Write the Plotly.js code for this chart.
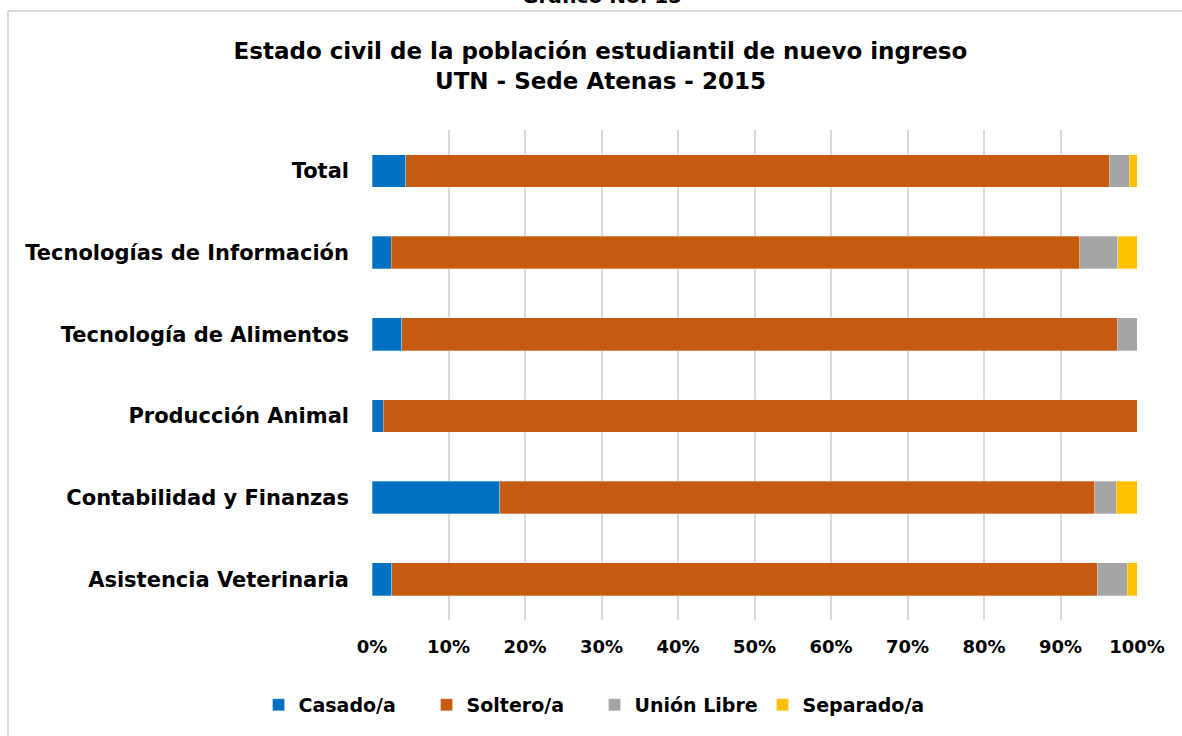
<!DOCTYPE html>
<html>
<head>
<meta charset="utf-8">
<script src="https://cdn.plot.ly/plotly-3.0.1.min.js"></script>
<style>
html,body{margin:0;padding:0;background:#fff;}
#chart{width:1182px;height:736px;}
</style>
</head>
<body>
<div id="chart"></div>
<script>
const categories = ["Total","Tecnologías de Información","Tecnología de Alimentos","Producción Animal","Contabilidad y Finanzas","Asistencia Veterinaria"];
const seriesNames = ["Casado/a","Soltero/a","Unión Libre","Separado/a"];
const casado   = [4.4, 2.5, 3.9, 1.5, 16.7, 2.6];
const soltero  = [92.0, 90.0, 93.5, 98.5, 77.8, 92.2];
const unionLib = [2.6, 5.0, 2.6, 0, 2.8, 3.9];
const separado = [1.0, 2.5, 0, 0, 2.7, 1.3];
const colors = ["#0070C0","#C55A11","#A5A5A5","#FFC000"];
const xTickVals = [0,10,20,30,40,50,60,70,80,90,100];
const xTickText = ["0%","10%","20%","30%","40%","50%","60%","70%","80%","90%","100%"];

const FONT = "DejaVu Sans, sans-serif";
const values = [casado, soltero, unionLib, separado];
const traces = seriesNames.map((n,i)=>({
  type:"bar", orientation:"h", name:n,
  x: values[i], y: categories,
  marker:{color:colors[i], line:{color:"rgba(255,255,255,0.5)", width:0.6}},
  hoverinfo:"x+y+name"
}));

const layout = {
  width:1182, height:736,
  paper_bgcolor:"#fff", plot_bgcolor:"#fff",
  barmode:"stack", bargap:0.6,
  margin:{l:372, r:45, t:130, b:116},
  font:{family:FONT, color:"#000"},
  title:{text:"<b>Estado civil de la población estudiantil de nuevo ingreso<br>UTN - Sede Atenas - 2015</b>",
         font:{family:FONT, size:23, color:"#000"}, x:0.508, xref:"container", xanchor:"center",
         yref:"container", y:1-59/736, yanchor:"top"},
  xaxis:{range:[0,100], tickvals:xTickVals, ticktext:xTickText,
         showgrid:true, gridcolor:"#d9d9d9", gridwidth:1.5, zeroline:false,
         showline:false, ticks:"", ticklabelstandoff:14,
         tickfont:{family:FONT, size:18, color:"#000", weight:"bold"}},
  yaxis:{autorange:"reversed", showgrid:false, zeroline:false, showline:false, ticks:"",
         ticklabelstandoff:22,
         tickfont:{family:FONT, size:21, color:"#000", weight:"bold"}},
  legend:{orientation:"h", xref:"container", yref:"container", x:0.503, xanchor:"center", y:1-705/736, yanchor:"middle",
          font:{family:FONT, size:19, color:"#000", weight:"bold"}, traceorder:"normal", itemwidth:30,
          entrywidth:123, entrywidthmode:"pixels"},
  shapes:[
    {type:"line", xref:"paper", yref:"paper", x0:(8-372)/765, x1:(1190-372)/765, y0:(736-11-116)/490, y1:(736-11-116)/490, line:{color:"#d9d9d9", width:2}},
    {type:"line", xref:"paper", yref:"paper", x0:(8-372)/765, x1:(8-372)/765, y0:(736-11-116)/490, y1:-0.3, line:{color:"#d9d9d9", width:2}}
  ],
  annotations:[
    {text:"<b>Gráfico No. 15</b>", xref:"paper", yref:"paper", x:(602-372)/765, y:(736-10-116)/490, xanchor:"center", yanchor:"bottom", showarrow:false, font:{family:FONT, size:20, color:"#000"}}
  ]
};
Plotly.newPlot("chart", traces, layout, {displayModeBar:false, responsive:false});
</script>
</body>
</html>
